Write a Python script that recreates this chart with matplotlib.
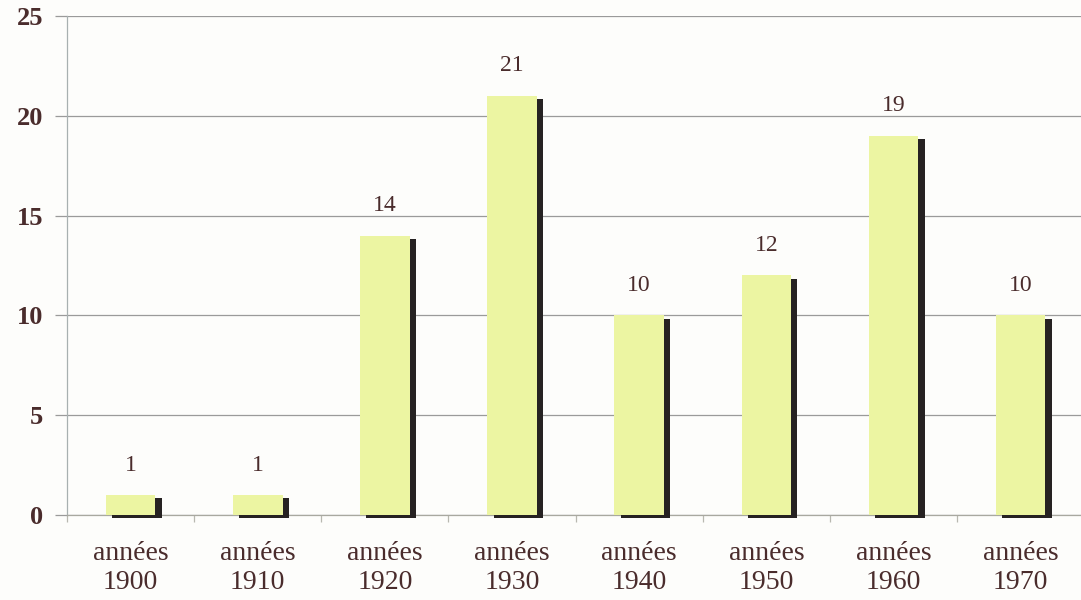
import matplotlib
matplotlib.use("Agg")
import matplotlib.pyplot as plt
import matplotlib.patheffects as pe
import numpy as np

decennies = ["1900", "1910", "1920", "1930", "1940", "1950", "1960", "1970"]
nombres = [1, 1, 14, 21, 10, 12, 19, 10]

txt_col = "#4a2c2c"
grid_col = "#9a9a9a"

plt.rcParams["font.family"] = ["Liberation Serif", "DejaVu Serif"]

fig = plt.figure(figsize=(10.81, 6.0), dpi=100, facecolor="#fdfdfb")
ax = fig.add_axes([0.062, 0.1417, 0.941, 0.8316])
ax.set_facecolor("#fdfdfb")

x = np.arange(len(decennies))
ombre = [pe.SimplePatchShadow(offset=(4.5, -2.5), shadow_rgbFace="#262222", alpha=1.0),
         pe.Normal()]
barres = ax.bar(x, nombres, width=0.39, color="#ecf5a2", edgecolor="none", zorder=3)
for b in barres:
    b.set_path_effects(ombre)
    b.set_clip_on(False)

for xi, v in zip(x, nombres):
    ax.annotate(str(v), (xi, v), xytext=(0, 30), textcoords="offset pixels",
                ha="center", va="center", fontsize=17, color=txt_col)

ax.set_xlim(-0.5, 7.5)
ax.set_ylim(0, 25)
ax.set_yticks(range(0, 26, 5))
ax.yaxis.grid(True, color=grid_col, linewidth=0.9)
ax.set_axisbelow(True)

ax.set_xticks(x)
ax.set_xticklabels(["années\n" + d for d in decennies], linespacing=1.2)
ax.set_xticks(np.arange(-0.5, 8, 1), minor=True)
ax.tick_params(axis="x", which="major", length=0, pad=19, labelsize=20, labelcolor=txt_col)
ax.tick_params(axis="x", which="minor", length=5, color="#b8b8b0", width=0.9)
ax.tick_params(axis="y", length=9, color=grid_col, width=0.9, pad=8,
               labelsize=19, labelcolor=txt_col)
for t in ax.get_yticklabels():
    t.set_fontweight("bold")

for s in ["top", "right"]:
    ax.spines[s].set_visible(False)
ax.spines["left"].set_color("#a8b0b0")
ax.spines["bottom"].set_color("#a8a8a0")
ax.spines["left"].set_linewidth(0.9)
ax.spines["bottom"].set_linewidth(0.9)

fig.savefig("out.png", dpi=100, facecolor=fig.get_facecolor())
